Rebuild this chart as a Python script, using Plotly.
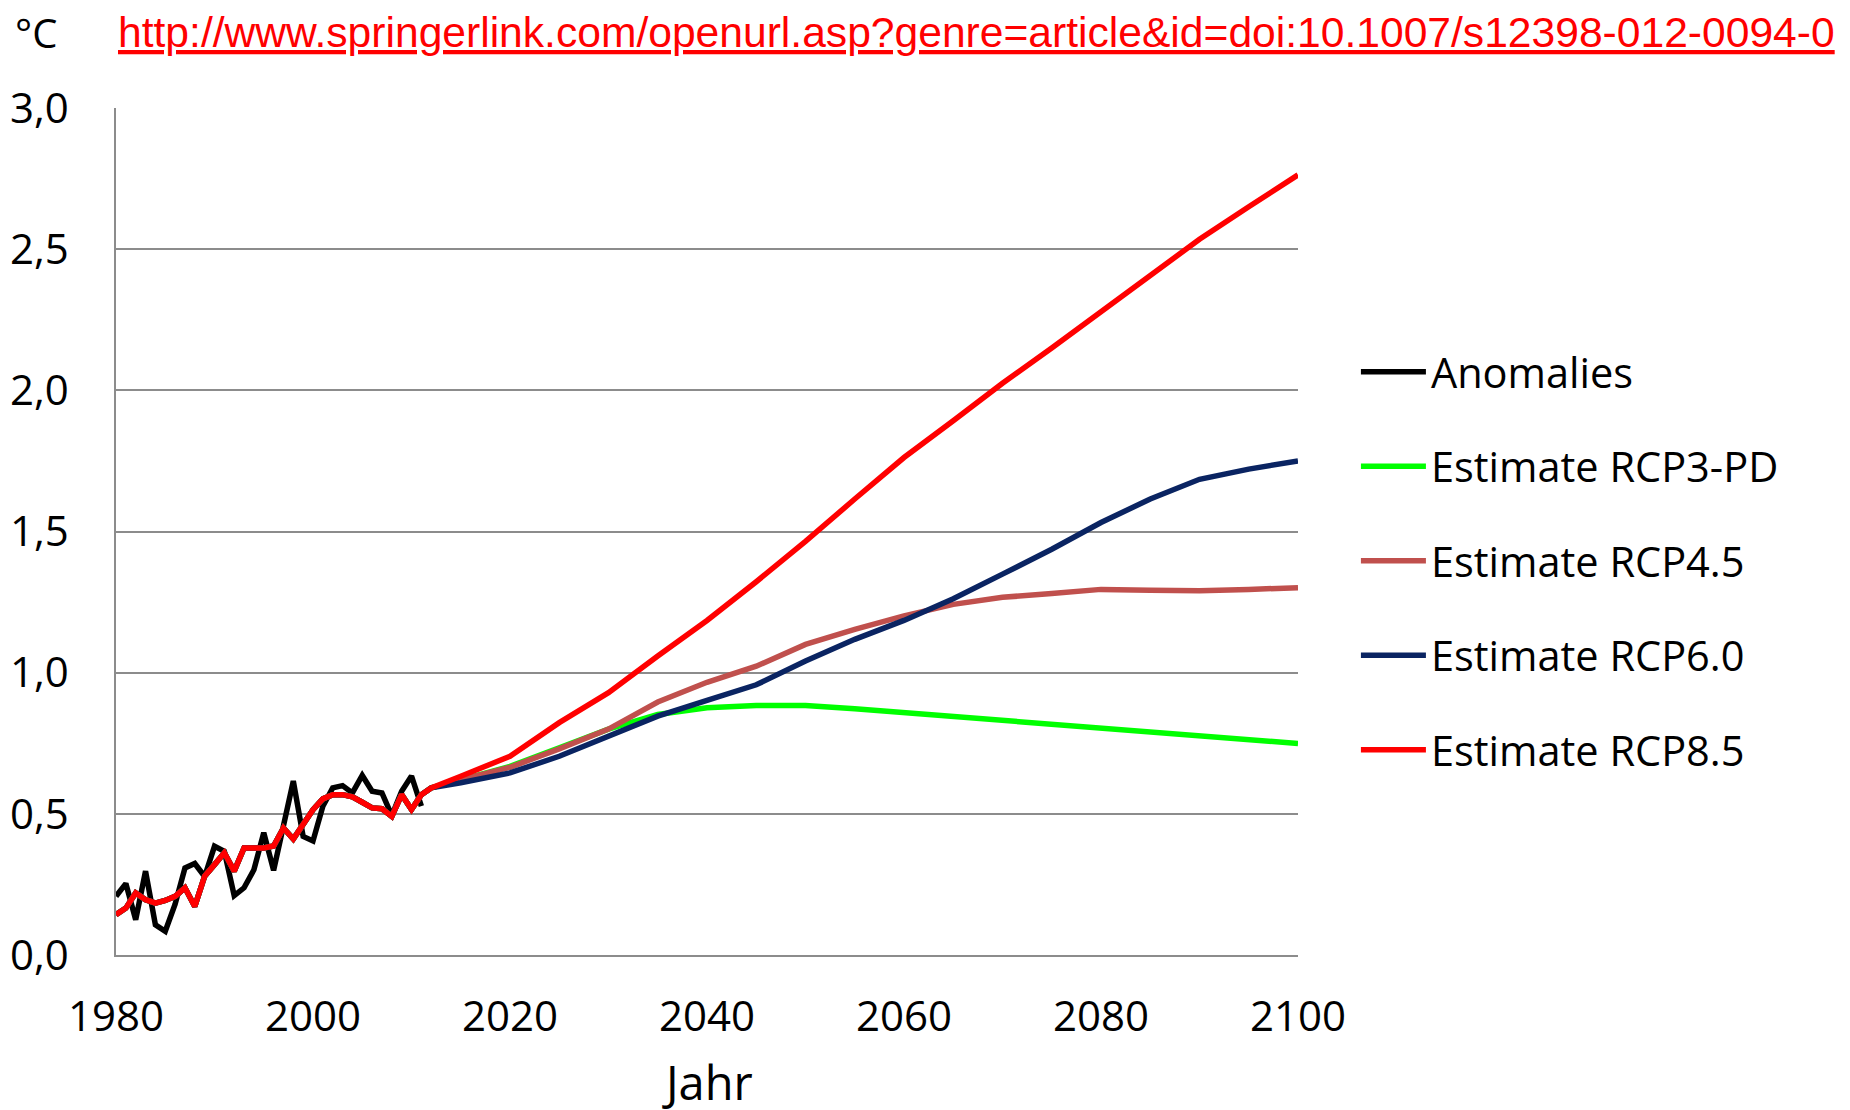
import plotly.graph_objects as go

# ---- data ----
anom_years = list(range(1980, 2012))
anomalies = [0.208, 0.253, 0.125, 0.297, 0.107, 0.084, 0.180, 0.308, 0.324, 0.278,
             0.385, 0.367, 0.210, 0.238, 0.302, 0.433, 0.300, 0.468, 0.616, 0.420,
             0.404, 0.527, 0.592, 0.600, 0.574, 0.636, 0.580, 0.574, 0.494, 0.580,
             0.634, 0.527]

hist_years = list(range(1980, 2013))
est_hist = [0.143, 0.166, 0.220, 0.196, 0.184, 0.193, 0.208, 0.238, 0.172, 0.279,
            0.320, 0.362, 0.297, 0.379, 0.379, 0.379, 0.386, 0.450, 0.411, 0.462,
            0.515, 0.553, 0.568, 0.568, 0.560, 0.541, 0.521, 0.518, 0.491, 0.568,
            0.515, 0.568, 0.592]

future_years = [2015, 2020, 2025, 2030, 2035, 2040, 2045, 2050, 2055, 2060,
                2065, 2070, 2075, 2080, 2085, 2090, 2095, 2100]
rcp3pd = [0.620, 0.668, 0.734, 0.800, 0.852, 0.876, 0.884, 0.884, 0.872, 0.858,
          0.844, 0.830, 0.817, 0.801, 0.791, 0.775, 0.763, 0.749]
rcp45 = [0.620, 0.665, 0.730, 0.800, 0.896, 0.966, 1.023, 1.100, 1.153, 1.201,
         1.242, 1.267, 1.280, 1.295, 1.292, 1.290, 1.295, 1.301]
rcp60 = [0.610, 0.645, 0.704, 0.775, 0.846, 0.902, 0.957, 1.041, 1.118, 1.185,
         1.262, 1.349, 1.437, 1.532, 1.615, 1.685, 1.721, 1.750]
rcp85 = [0.633, 0.704, 0.823, 0.929, 1.059, 1.185, 1.322, 1.465, 1.615, 1.762,
         1.892, 2.025, 2.150, 2.278, 2.408, 2.535, 2.650, 2.763]

series_names = ["Anomalies", "Estimate RCP3-PD", "Estimate RCP4.5",
                "Estimate RCP6.0", "Estimate RCP8.5"]
series_colors = ["#000000", "#00ff00", "#c0504d", "#0a2462", "#ff0000"]

x_ticks = [1980, 2000, 2020, 2040, 2060, 2080, 2100]
y_ticks = [0.0, 0.5, 1.0, 1.5, 2.0, 2.5, 3.0]
y_ticktext = ["0,0", "0,5", "1,0", "1,5", "2,0", "2,5", "3,0"]

url_text = "http://www.springerlink.com/openurl.asp?genre=article&id=doi:10.1007/s12398-012-0094-0"
unit_text = "°C"
x_title = "Jahr"

FONT = "Open Sans"
LW = 5.5

fig = go.Figure()
fig.add_trace(go.Scatter(x=anom_years, y=anomalies, mode="lines", name=series_names[0],
                         line=dict(color=series_colors[0], width=LW), legendgroup="g0"))
est_x = hist_years + future_years
for i, fut in enumerate([rcp3pd, rcp45, rcp60, rcp85]):
    fig.add_trace(go.Scatter(x=est_x, y=est_hist + fut, mode="lines",
                             name=series_names[i + 1],
                             line=dict(color=series_colors[i + 1], width=LW),
                             legendgroup="g%d" % (i + 1)))

fig.update_layout(
    width=1842, height=1102,
    margin=dict(l=108, r=552, t=100, b=155),
    paper_bgcolor="white", plot_bgcolor="white",
    font=dict(family=FONT, size=42, color="black"),
    showlegend=True,
    legend=dict(x=1.049, y=0.728, xanchor="left", yanchor="top",
                font=dict(family=FONT, size=41.5, color="black"),
                tracegroupgap=37.5, itemwidth=65, bgcolor="rgba(0,0,0,0)"),
    xaxis=dict(range=[1980, 2100], tickvals=x_ticks, showgrid=False,
               showline=True, linecolor="#8c8c8c", linewidth=1.5,
               ticks="", ticklabelstandoff=24, zeroline=False, automargin=False,
               tickfont=dict(family=FONT, size=42)),
    yaxis=dict(range=[0, 3], tickvals=y_ticks, ticktext=y_ticktext,
               showgrid=True, gridcolor="#8c8c8c", gridwidth=1.5,
               showline=True, linecolor="#8c8c8c", linewidth=1.5,
               ticks="", ticklabelstandoff=37, zeroline=False, automargin=False,
               tickfont=dict(family=FONT, size=42)),
    annotations=[
        dict(text="<u>" + url_text + "</u>", xref="paper", yref="paper",
             x=0.0, y=1.09, xanchor="left", yanchor="middle", showarrow=False,
             font=dict(family="Liberation Sans", size=42.6, color="#ff0000")),
        dict(text=unit_text, xref="paper", yref="paper",
             x=-0.087, y=1.0895, xanchor="left", yanchor="middle", showarrow=False,
             font=dict(family=FONT, size=40, color="black")),
        dict(text=x_title, xref="paper", yref="paper",
             x=0.5, y=-0.150, xanchor="center", yanchor="middle", showarrow=False,
             font=dict(family=FONT, size=47, color="black")),
    ],
)

fig.write_html("out.html")
